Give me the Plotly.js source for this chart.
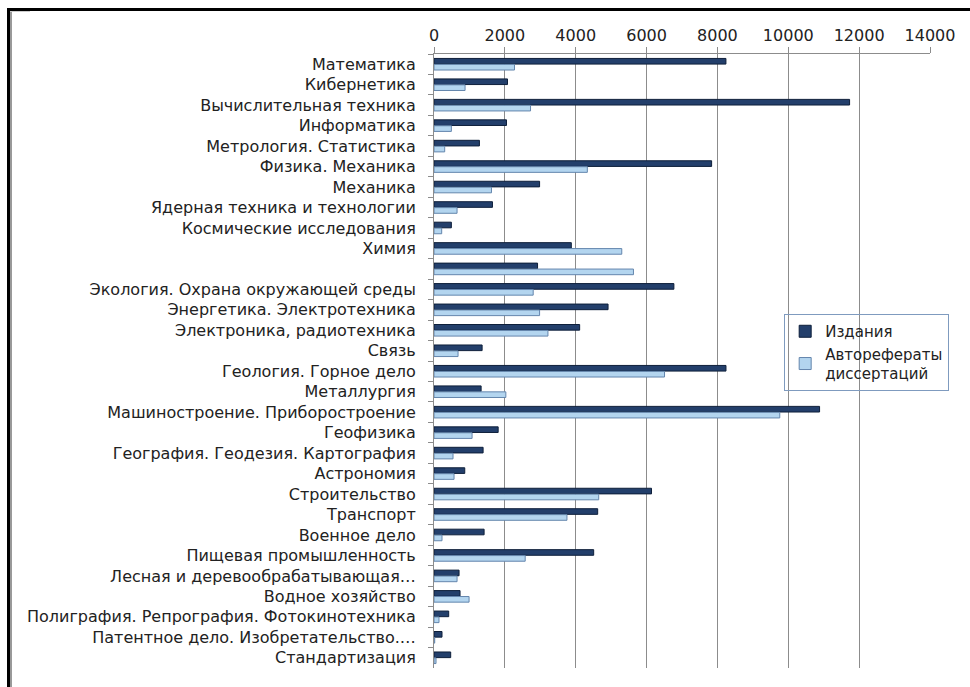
<!DOCTYPE html>
<html>
<head>
<meta charset="utf-8">
<script src="https://cdn.plot.ly/plotly-3.0.1.min.js"></script>
<style>
  html, body { margin: 0; padding: 0; background: #fff; overflow: hidden; }
  #wrap { position: relative; width: 970px; height: 687px; overflow: hidden; }
  #chart { position: absolute; left: 0; top: 0; width: 970px; height: 687px; }
  .fr { position: absolute; pointer-events: none; }
</style>
</head>
<body>
<div id="wrap">
  <div id="chart"></div>
  <div class="fr" style="left:7px; top:8px; width:963px; height:3px; background:#000;"></div>
  <div class="fr" style="left:7px; top:8px; width:3px; height:679px; background:#000;"></div>
  <div class="fr" style="left:10px; top:11px; width:2px; height:676px; background:#999;"></div>
  <div class="fr" style="left:10px; top:11px; width:20px; height:1px; background:#ccc;"></div>
</div>
<script>
const categories = [
  "Математика",
  "Кибернетика",
  "Вычислительная техника",
  "Информатика",
  "Метрология. Статистика",
  "Физика. Механика",
  "Механика",
  "Ядерная техника и технологии",
  "Космические исследования",
  "Химия",
  " ",
  "Экология. Охрана окружающей среды",
  "Энергетика. Электротехника",
  "Электроника, радиотехника",
  "Связь",
  "Геология. Горное дело",
  "Металлургия",
  "Машиностроение. Приборостроение",
  "Геофизика",
  "География. Геодезия. Картография",
  "Астрономия",
  "Строительство",
  "Транспорт",
  "Военное дело",
  "Пищевая промышленность",
  "Лесная и деревообрабатывающая…",
  "Водное хозяйство",
  "Полиграфия. Репрография. Фотокинотехника",
  "Патентное дело. Изобретательство.…",
  "Стандартизация"
];

const izdaniya = [
  8240, 2075, 11730, 2046, 1282, 7836, 2980, 1650, 490, 3876,
  2923, 6771, 4913, 4111, 1358, 8241, 1330, 10883, 1811, 1386,
  868, 6139, 4620, 1414, 4507, 707, 735, 415, 226, 471
];

const avtoreferaty = [
  2272, 877, 2725, 490, 302, 4328, 1622, 651, 217, 5300,
  5630, 2800, 2980, 3216, 679, 6507, 2028, 9760, 1075, 537,
  566, 4649, 3753, 226, 2574, 651, 990, 141, 20, 57
];

const seriesNames = ["Издания", "Авторефераты<br>диссертаций"];
const xTicks = [0, 2000, 4000, 6000, 8000, 10000, 12000, 14000];

const traces = [
  {
    type: "bar", orientation: "h", name: seriesNames[0],
    y: categories, x: izdaniya,
    marker: { color: "#233f6b", line: { color: "#0e1f3a", width: 1 } },
    hoverinfo: "x+y"
  },
  {
    type: "bar", orientation: "h", name: seriesNames[1],
    y: categories, x: avtoreferaty,
    marker: { color: "#b3d5ef", line: { color: "#6486ad", width: 1 } },
    hoverinfo: "x+y"
  }
];

const layout = {
  width: 970, height: 687,
  paper_bgcolor: "#ffffff", plot_bgcolor: "#ffffff",
  margin: { l: 434, r: 40, t: 54, b: 19 },
  font: { family: "DejaVu Sans, Open Sans, sans-serif", color: "#222" },
  barmode: "group",
  bargap: 0.42,
  bargroupgap: 0.05,
  showlegend: true,
  legend: {
    x: 0.706, y: 0.5765, xanchor: "left", yanchor: "top",
    bgcolor: "rgba(0,0,0,0)", bordercolor: "#7f9bbf", borderwidth: 1,
    font: { size: 15, color: "#222" },
    tracegroupgap: 10,
    itemwidth: 30
  },
  xaxis: {
    side: "top",
    range: [0, 14000],
    tickvals: xTicks,
    ticktext: xTicks.map(String),
    showgrid: true, gridcolor: "#8c8c8c", gridwidth: 1,
    showline: true, linecolor: "#8c8c8c", linewidth: 1,
    ticks: "outside", ticklen: 6, tickcolor: "#8c8c8c",
    tickfont: { size: 16, color: "#222" },
    zeroline: false,
    fixedrange: true
  },
  yaxis: {
    type: "category",
    autorange: "reversed",
    categoryorder: "array", categoryarray: categories,
    showline: true, linecolor: "#8c8c8c", linewidth: 1,
    ticks: "outside", ticklen: 5, tickcolor: "#8c8c8c",
    tickson: "boundaries",
    ticklabelstandoff: 14,
    tickfont: { size: 16, color: "#222" },
    showgrid: false,
    fixedrange: true
  }
};

Plotly.newPlot("chart", traces, layout, { displayModeBar: false, staticPlot: true });
</script>
</body>
</html>
